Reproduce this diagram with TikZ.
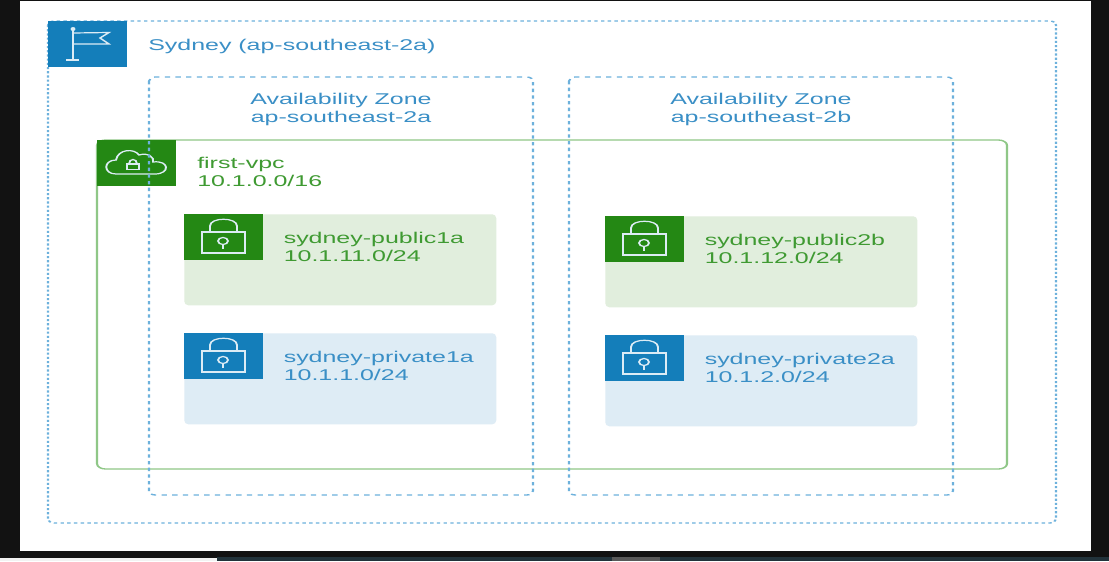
\documentclass[tikz,border=0pt]{standalone}
\usepackage{fontspec}
\setmainfont[FakeStretch=1.6]{Liberation Sans}
\definecolor{awsblue}{HTML}{147EBA}
\definecolor{awsgreen}{HTML}{248814}
\definecolor{paleblue}{HTML}{DEECF5}
\definecolor{palegreen}{HTML}{E1EEDD}
\definecolor{lineblue}{HTML}{6DB1DC}
\definecolor{linegreen}{HTML}{8FC787}
\definecolor{textblue}{HTML}{3A8FC6}
\definecolor{textgreen}{HTML}{3F9A32}
\definecolor{screenbar}{HTML}{22333B}
\newcommand{\lockicon}[2]{%
	\draw [stretched,icon] (#1+18,#2+18) rectangle (#1+61,#2+39);
	\draw [stretched,icon] (#1+26,#2+18) -- (#1+26,#2+12) .. controls (#1+26,#2+3) and (#1+53,#2+3) .. (#1+53,#2+12) -- (#1+53,#2+18);
	\draw [stretched,icon] (#1+39,#2+27) ellipse (5 and 3.5);
	\draw [stretched,icon] (#1+39,#2+30.5) -- (#1+39,#2+35);
}
\begin{document}
\begin{tikzpicture}[x=0.75pt,y=-0.75pt]
	\tikzset{
		stretched/.style={transform canvas={xscale=1.6},x=0.46875pt},
		icon/.style={draw=white!85!awsblue,line width=0.9pt},
		region/.style={stretched,line width=1pt,rounded corners=3pt},
		title/.style={font=\fontsize{11.7}{13.5}\selectfont,inner sep=0pt},
		tilebox/.style={anchor=north west,inner sep=0pt,minimum width=59pt,minimum height=34.5pt},
		subnetbox/.style={anchor=north west,inner sep=0pt,rounded corners=3pt,minimum width=234pt,minimum height=68.25pt}
	}
	\useasboundingbox (0,0) rectangle (1109,561);
	% screen around the picture
	\fill [black!93] (0,0) rectangle (1109,561);
	\fill [white] (20,1) rectangle (1091,551);
	\fill [black!5] (0,558) rectangle (217,561);
	\fill [screenbar] (217,557) rectangle (1109,561);
	\fill [black!65] (612,557) rectangle (660,561);
	% vpc
	\draw [region,draw=linegreen,rounded corners=4pt] (97,140) rectangle (1007,469);
	\node [tilebox,fill=awsgreen] (vpctile) at (97,140) {};
	\draw [stretched,icon] (116,174) .. controls (103,174) and (103,160) .. (116,160) .. controls (118,149) and (134,148) .. (139,155) .. controls (148,152) and (155,158) .. (153,162) .. controls (170,160) and (170,174) .. (155,174) -- cycle;
	\draw [stretched,icon] (127,164) rectangle (139,169.5);
	\draw [stretched,icon] (129,164) .. controls (129,158) and (137,158) .. (137,164);
	\node [title,text=textgreen,anchor=west,align=left] (vpclabel) at (197,171.5) {first-vpc\\10.1.0.0/16};
	% region
	\draw [region,draw=lineblue,dash pattern=on 1.6pt off 1.55pt] (48,21) rectangle (1056,523);
	\node [tilebox,fill=awsblue] (flagtile) at (48,21) {};
	\draw [stretched,icon] (73,30) -- (73,60);
	\draw [stretched,icon] (66,60) -- (79,60);
	\fill [stretched,white!85!awsblue] (73,29) circle (2.5 and 2);
	\draw [stretched,icon] (73,33) -- (109,32.5) -- (100,38) -- (109,44) -- (73,44);
	\node [title,text=textblue,anchor=west] (regionlabel) at (148,46) {Sydney (ap-southeast-2a)};
	% availability zones
	\draw [region,draw=lineblue,dash pattern=on 2.5pt off 2.5pt] (149,77) rectangle (533,495);
	\draw [region,draw=lineblue,dash pattern=on 2.5pt off 2.5pt] (569,77) rectangle (953,495);
	\node [title,text=textblue,align=center] (zone1) at (341,109) {Availability Zone\\ap-southeast-2a};
	\node [title,text=textblue,align=center] (zone2) at (761,109) {Availability Zone\\ap-southeast-2b};
	% subnets
	\node [subnetbox,fill=palegreen] (public1) at (184,214) {};
	\node [subnetbox,fill=paleblue] (private1) at (184,333) {};
	\node [subnetbox,fill=palegreen] (public2) at (605,216) {};
	\node [subnetbox,fill=paleblue] (private2) at (605,335) {};
	\node [tilebox,fill=awsgreen] (publictile1) at (184,214) {};
	\node [tilebox,fill=awsblue] (privatetile1) at (184,333) {};
	\node [tilebox,fill=awsgreen] (publictile2) at (605,216) {};
	\node [tilebox,fill=awsblue] (privatetile2) at (605,335) {};
	\lockicon{184}{214}
	\lockicon{184}{333}
	\lockicon{605}{216}
	\lockicon{605}{335}
	\node [title,text=textgreen,anchor=west,align=left] (publiclabel1) at (283.5,247) {sydney-public1a\\10.1.11.0/24};
	\node [title,text=textblue,anchor=west,align=left] (privatelabel1) at (283.5,366) {sydney-private1a\\10.1.1.0/24};
	\node [title,text=textgreen,anchor=west,align=left] (publiclabel2) at (704.5,249) {sydney-public2b\\10.1.12.0/24};
	\node [title,text=textblue,anchor=west,align=left] (privatelabel2) at (704.5,368) {sydney-private2a\\10.1.2.0/24};
\end{tikzpicture}
\end{document}
